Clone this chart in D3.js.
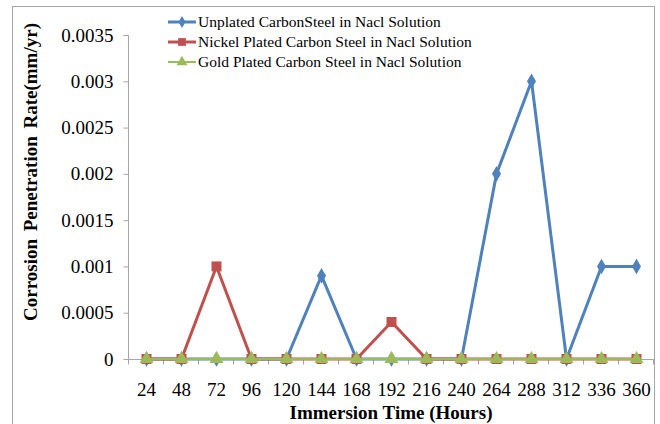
<!DOCTYPE html>
<html>
<head>
<meta charset="utf-8">
<script src="https://cdn.jsdelivr.net/npm/d3@7"></script>
<style>
  html, body { margin: 0; padding: 0; background: #fff; }
  svg { display: block; }
  svg text { font-family: "Liberation Serif", "Times New Roman", "DejaVu Serif", serif; }
</style>
</head>
<body>
<svg id="chart" width="660" height="424"></svg>
<script>
// Immersion time categories (hours)
const hours = ["24","48","72","96","120","144","168","192","216","240","264","288","312","336","360"];
// Corrosion penetration rate (mm/yr) per series
const unplated = [0,0,0,0,0,0.0009,0,0,0,0,0.002,0.003,0,0.001,0.001];
const nickel   = [0,0,0.001,0,0,0,0,0.0004,0,0,0,0,0,0,0];
const gold     = [0,0,0,0,0,0,0,0,0,0,0,0,0,0,0];
const yTicks   = [0,0.0005,0.001,0.0015,0.002,0.0025,0.003,0.0035];
const seriesNames = [
  "Unplated CarbonSteel in Nacl Solution",
  "Nickel Plated Carbon Steel in Nacl Solution",
  "Gold Plated Carbon Steel in Nacl Solution"
];

const svg = d3.select("#chart");

// outer frame
svg.append("rect").attr("x", 12.5).attr("y", 6.5).attr("width", 642).attr("height", 430)
  .attr("fill", "none").attr("stroke", "#a6a6a6").attr("stroke-width", 1);

const plotLeft = 129, plotRight = 654, plotTop = 35, plotBottom = 359;

const x = d3.scaleBand().domain(hours).range([plotLeft, plotRight]);
const y = d3.scaleLinear().domain([0, 0.0035]).range([plotBottom, plotTop]);

// y axis
const yAxis = svg.append("g").attr("transform", `translate(${plotLeft - 0.5},0)`)
  .call(d3.axisLeft(y).tickValues(yTicks).tickSize(5).tickPadding(10)
    .tickFormat(d => d === 0 ? "0" : String(+d.toFixed(4))));
yAxis.attr("font-family", null).attr("font-size", null);
yAxis.select(".domain").attr("stroke", "#a6a6a6").attr("d", `M-5,${plotTop + 0.5}H0V${plotBottom + 0.5}`);
yAxis.selectAll(".tick line").attr("stroke", "#a6a6a6");
yAxis.selectAll(".tick text").style("font-size", "19px").attr("fill", "#000");

// x axis with boundary tick marks between categories
const xg = svg.append("g").attr("transform", `translate(0,${plotBottom + 0.5})`);
xg.append("line").attr("x1", plotLeft - 0.5).attr("x2", plotRight).attr("y1", 0).attr("y2", 0)
  .attr("stroke", "#a6a6a6");
const bounds = hours.map(h => x(h)).concat([plotRight]);
xg.selectAll("line.tk").data(bounds).join("line").attr("class", "tk")
  .attr("x1", d => Math.round(d) - 0.5).attr("x2", d => Math.round(d) - 0.5)
  .attr("y1", 0).attr("y2", 5).attr("stroke", "#a6a6a6");
xg.selectAll("text").data(hours).join("text")
  .attr("x", d => x(d) + x.bandwidth() / 2).attr("y", 36)
  .attr("text-anchor", "middle").style("font-size", "19px")
  .attr("fill", "#000").text(d => d);

// axis titles
svg.append("text").attr("x", 391).attr("y", 419).attr("text-anchor", "middle")
  .style("font-size", "19px").attr("font-weight", "bold")
  .text("Immersion Time (Hours)");
svg.append("text").attr("transform", "translate(37,172) rotate(-90)").attr("text-anchor", "middle")
  .style("font-size", "19px").style("word-spacing", "3px").attr("font-weight", "bold")
  .text("Corrosion Penetration Rate(mm/yr)");

const cx = i => x(hours[i]) + x.bandwidth() / 2;
const series = [
  { name: seriesNames[0], values: unplated, color: "#4F81BD", sym: d3.symbolDiamond, size: 70, width: 3 },
  { name: seriesNames[1], values: nickel,   color: "#C0504D", sym: d3.symbolSquare,  size: 100, width: 3 },
  { name: seriesNames[2], values: gold,     color: "#9BBB59", sym: d3.symbolTriangle, size: 85, width: 2 }
];

const line = d3.line().x((d, i) => cx(i)).y(d => y(d));
series.forEach(s => {
  svg.append("path").datum(s.values).attr("d", line).attr("fill", "none")
    .attr("stroke", s.color).attr("stroke-width", s.width).attr("stroke-linejoin", "round");
  svg.append("g").selectAll("path").data(s.values).join("path")
    .attr("transform", (d, i) => `translate(${cx(i)},${y(d)})`)
    .attr("d", d3.symbol().type(s.sym).size(s.size)).attr("fill", s.color);
});

// legend
const lg = svg.append("g");
series.forEach((s, i) => {
  const yy = 22 + i * 20;
  lg.append("line").attr("x1", 168).attr("x2", 196).attr("y1", yy).attr("y2", yy)
    .attr("stroke", s.color).attr("stroke-width", s.width);
  lg.append("path").attr("transform", `translate(182,${yy})`)
    .attr("d", d3.symbol().type(s.sym).size(s.size * 0.6)).attr("fill", s.color);
  lg.append("text").attr("x", 198).attr("y", yy + 5)
    .style("font-size", "15.5px").attr("fill", "#000").text(s.name);
});
</script>
</body>
</html>
